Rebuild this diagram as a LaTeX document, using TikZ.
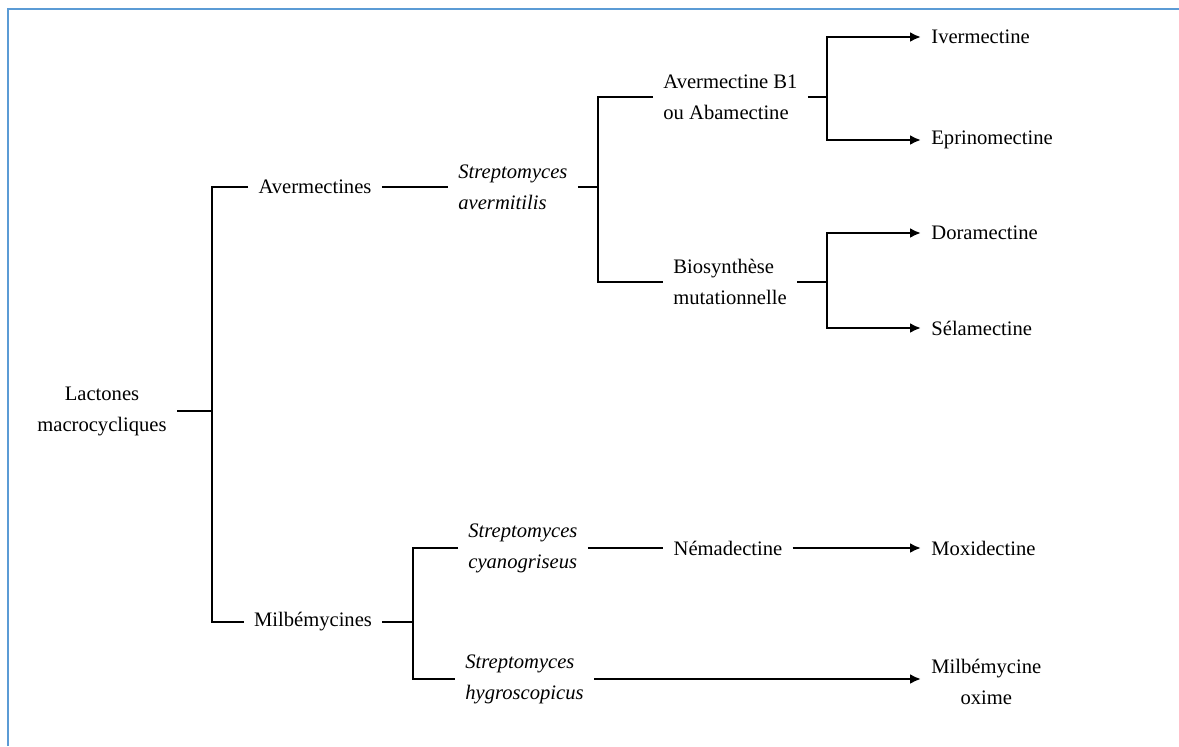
\documentclass[tikz,border=0pt]{standalone}
\usepackage{fontspec}
\setmainfont{Liberation Serif}
\usetikzlibrary{arrows.meta}
\definecolor{framecol}{RGB}{91,155,213}

\begin{document}
\begin{tikzpicture}[x=0.5pt,y=-0.5pt,every node/.style={font=\fontsize{10.3}{15.5}\selectfont,inner sep=5pt},
  link/.style={line width=1.4pt},arr/.style={link,-{Latex[length=5.5pt,width=5pt]}},
  species/.style={font=\fontsize{10.3}{15.5}\selectfont\itshape,align=left}]
\useasboundingbox (0,0) rectangle (1179,746);
\draw[framecol,line width=1pt] (8,746) -- (8,9) -- (1179,9);
% groups
\node[align=center] (lac) at (102,411) {Lactones\\macrocycliques};
\node (av) at (315,187) {Avermectines}; \node (mil) at (313,622) {Milbémycines};
% sources
\node[species,anchor=west] (sav) at (448,187) {Streptomyces\\avermitilis};
\node[species,anchor=west] (cy) at (458,548) {Streptomyces\\cyanogriseus};
\node[species,anchor=west] (hy) at (455,679) {Streptomyces\\hygroscopicus};
\node[align=left,anchor=west] (ab) at (653,97) {Avermectine B1\\ou Abamectine};
\node[align=left,anchor=west] (bio) at (663,282) {Biosynthèse\\mutationnelle};
\node (nem) at (728,548) {Némadectine};
% molecules
\node[anchor=west] (iv) at (921,37) {Ivermectine}; \node[anchor=west] (ep) at (921,140) {Eprinomectine};
\node[anchor=west] (dor) at (921,233) {Doramectine}; \node[anchor=west] (sel) at (921,328) {Sélamectine};
\node[anchor=west] (mox) at (921,548) {Moxidectine};
\node[align=center,anchor=west] (mo) at (921,682) {Milbémycine\\oxime};
\coordinate (j0) at (212,411); \coordinate (j1) at (598,187); \coordinate (j2) at (827,97); \coordinate (j3) at (827,282); \coordinate (j4) at (413,622);
\draw[link] (lac.east) -- (j0); \draw[link] (av.west) -| (j0) |- (mil.west);
\draw[link] (av) -- (sav); \draw[link] (sav.east) -- (j1); \draw[link] (ab.west) -| (j1) |- (bio.west);
\draw[link] (ab.east) -- (j2); \draw[arr] (j2) |- (iv.west); \draw[arr] (j2) |- (ep.west);
\draw[link] (bio.east) -- (j3); \draw[arr] (j3) |- (dor.west); \draw[arr] (j3) |- (sel.west);
\draw[link] (mil.east) -- (j4); \draw[link] (cy.west) -| (j4) |- (hy.west);
\draw[link] (cy) -- (nem); \draw[arr] (nem) -- (mox); \draw[arr] (hy.east) -- (hy.east -| mo.west);
\end{tikzpicture}
\end{document}
